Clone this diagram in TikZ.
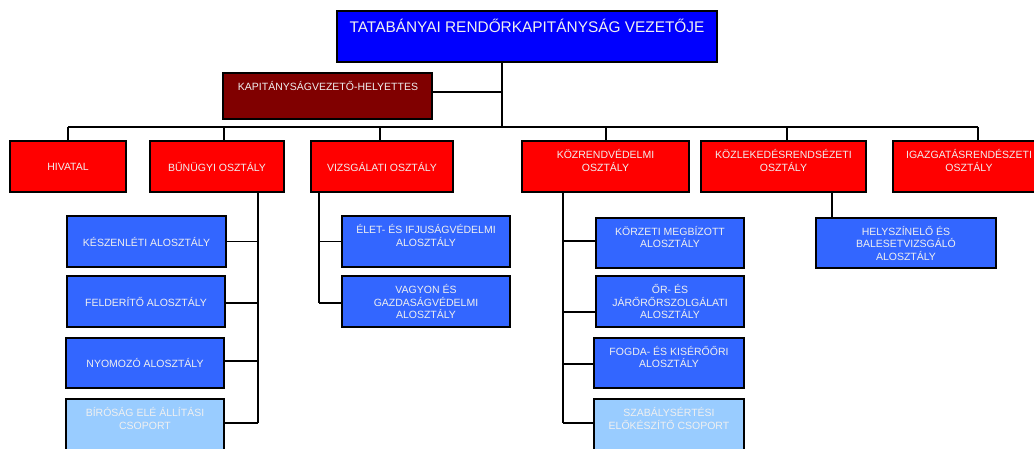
\documentclass[tikz,border=0pt]{standalone}
\usepackage{fontspec}
\setmainfont{Liberation Sans}
\definecolor{topblue}{HTML}{0000FF}
\definecolor{midblue}{HTML}{3366FF}
\definecolor{lightblue}{HTML}{99CCFF}
\definecolor{deptred}{HTML}{FF0000}
\definecolor{maroon}{HTML}{800000}
\definecolor{txt}{HTML}{F0F0F0}
\tikzset{
  unitbox/.style={draw=black, line width=1.4pt, inner sep=0pt, outer sep=0pt,
    text=txt, font=\fontsize{10.5}{12.5}\selectfont, align=center},
  redbox/.style={unitbox, fill=deptred},
  bluebox/.style={unitbox, fill=midblue},
  lbox/.style={unitbox, fill=lightblue},
  conn/.style={draw=black, line width=1.4pt},
}
\begin{document}
\begin{tikzpicture}[x=1pt,y=-1pt]
\useasboundingbox (0,0) rectangle (1034,449);
\clip (0,0) rectangle (1034,449);

% top
\node[unitbox, fill=topblue, minimum width=380, minimum height=51] (top) at (527,36.5) {};
\node[text=txt, font=\fontsize{15.4}{18}\selectfont, inner sep=0pt] (toptxt) at (527,26) {TATABÁNYAI RENDŐRKAPITÁNYSÁG VEZETŐJE};

% deputy
\node[unitbox, fill=maroon, minimum width=209, minimum height=46] (dep) at (327.5,96) {};
\node[text=txt, font=\fontsize{10.5}{12.5}\selectfont, inner sep=0pt] (deptxt) at (328,86) {KAPITÁNYSÁGVEZETŐ-HELYETTES};

% departments
\node[redbox, minimum width=116, minimum height=51] (hiv) at (68,166.5) {HIVATAL};
\node[redbox, minimum width=134, minimum height=51] (bun) at (217,166.5) {BŰNÜGYI OSZTÁLY};
\node[redbox, minimum width=142, minimum height=51] (viz) at (382,166.5) {VIZSGÁLATI OSZTÁLY};
\node[redbox, minimum width=167, minimum height=51] (koz) at (605.5,166.5) {KÖZRENDVÉDELMI\\OSZTÁLY\\\mbox{}};
\node[redbox, minimum width=165, minimum height=51] (kle) at (783.5,166.5) {KÖZLEKEDÉSRENDSÉZETI\\OSZTÁLY\\\mbox{}};
\node[redbox, minimum width=152, minimum height=51] (igz) at (969,166.5) {IGAZGATÁSRENDÉSZETI\\OSZTÁLY\\\mbox{}};

% bus
\coordinate (hub) at (502,127);
\coordinate (depj) at (502,92);
\draw[conn] (top.south -| hub) -- (hub);
\draw[conn] (dep.east |- depj) -- (depj);
\draw[conn] (68,127) -- (978,127);
\coordinate (d1) at (68,127);
\coordinate (d2) at (224,127);
\coordinate (d3) at (380,127);
\coordinate (d4) at (606,127);
\coordinate (d5) at (787,127);
\coordinate (d6) at (978,127);
\draw[conn] (d1) -- (d1 |- hiv.north);
\draw[conn] (d2) -- (d2 |- bun.north);
\draw[conn] (d3) -- (d3 |- viz.north);
\draw[conn] (d4) -- (d4 |- koz.north);
\draw[conn] (d5) -- (d5 |- kle.north);
\draw[conn] (d6) -- (d6 |- igz.north);

% BŰNÜGYI children
\node[bluebox, minimum width=159, minimum height=51] (kesz) at (146.5,241.5) {KÉSZENLÉTI ALOSZTÁLY};
\node[bluebox, minimum width=158, minimum height=51] (feld) at (146,301.5) {FELDERÍTŐ ALOSZTÁLY};
\node[bluebox, minimum width=158, minimum height=50] (nyom) at (145,363) {NYOMOZÓ ALOSZTÁLY};
\node[lbox, minimum width=158, minimum height=51] (bir) at (145,424.5) {BÍRÓSÁG ELÉ ÁLLÍTÁSI\\CSOPORT\\\mbox{}};
\coordinate (bv) at (258,192);
\draw[conn] (bv) -- (258,423);
\draw[conn] (kesz.east) -- (kesz.east -| bv);
\draw[conn] ([yshift=-1.5pt]feld.east) -- ([yshift=-1.5pt]feld.east -| bv);
\draw[conn] ([yshift=2pt]nyom.east) -- ([yshift=2pt]nyom.east -| bv);
\draw[conn] ([yshift=1.5pt]bir.east) -- ([yshift=1.5pt]bir.east -| bv);

% VIZSGÁLATI children
\node[bluebox, minimum width=168, minimum height=51] (elet) at (426,241.5) {ÉLET- ÉS IFJUSÁGVÉDELMI\\ALOSZTÁLY\\\mbox{}};
\node[bluebox, minimum width=168, minimum height=51] (vag) at (426,301.5) {VAGYON ÉS\\GAZDASÁGVÉDELMI\\ALOSZTÁLY};
\coordinate (vv) at (319,192);
\draw[conn] (vv) -- (319,303);
\draw[conn] (elet.west) -- (elet.west -| vv);
\draw[conn] ([yshift=-1.5pt]vag.west) -- ([yshift=-1.5pt]vag.west -| vv);

% KÖZRENDVÉDELMI children
\node[bluebox, minimum width=148, minimum height=50] (korz) at (670,243) {KÖRZETI MEGBÍZOTT\\ALOSZTÁLY\\\mbox{}};
\node[bluebox, minimum width=148, minimum height=51] (or) at (670,301.5) {ŐR- ÉS\\JÁRŐRŐRSZOLGÁLATI\\ALOSZTÁLY};
\node[bluebox, minimum width=150, minimum height=50] (fog) at (669,363) {FOGDA- ÉS KISÉRŐŐRI\\ALOSZTÁLY\\\mbox{}};
\node[lbox, minimum width=150, minimum height=51] (szab) at (669,424.5) {SZABÁLYSÉRTÉSI\\ELŐKÉSZÍTŐ CSOPORT\\\mbox{}};
\coordinate (kv) at (563,192);
\draw[conn] (kv) -- (563,423);
\draw[conn] ([yshift=2pt]korz.west) -- ([yshift=2pt]korz.west -| kv);
\draw[conn] ([yshift=-10.5pt]or.west) -- ([yshift=-10.5pt]or.west -| kv);
\draw[conn] ([yshift=-1pt]fog.west) -- ([yshift=-1pt]fog.west -| kv);
\draw[conn] ([yshift=1.5pt]szab.west) -- ([yshift=1.5pt]szab.west -| kv);

% KÖZLEKEDÉS child
\node[bluebox, minimum width=180, minimum height=50] (hely) at (906,243) {HELYSZÍNELŐ ÉS\\BALESETVIZSGÁLÓ\\ALOSZTÁLY};
\coordinate (lv) at (832,192);
\draw[conn] (lv) -- (lv |- hely.north);
\end{tikzpicture}
\end{document}
